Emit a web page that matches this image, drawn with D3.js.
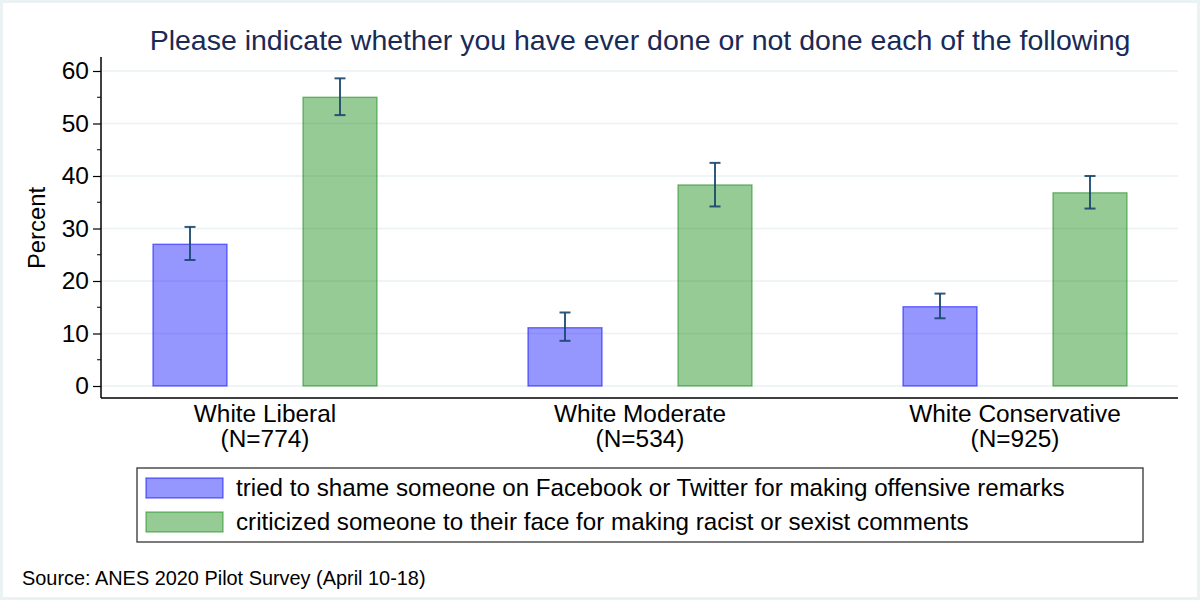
<!DOCTYPE html>
<html>
<head>
<meta charset="utf-8">
<script src="https://cdn.jsdelivr.net/npm/d3@7"></script>
<style>
  html, body { margin: 0; padding: 0; background: #fff; }
  text { font-family: "Liberation Sans", Arial, Helvetica, sans-serif; }
</style>
</head>
<body>
<svg id="chart" width="1200" height="600"></svg>
<script>
// ---- data ----
const groups = ["White Liberal", "White Moderate", "White Conservative"];
const groupN = ["(N=774)", "(N=534)", "(N=925)"];
const seriesNames = [
  "tried to shame someone on Facebook or Twitter for making offensive remarks",
  "criticized someone to their face for making racist or sexist comments"
];
const shameValues = [27.0, 11.1, 15.1];
const shameLow    = [24.0, 8.6, 12.9];
const shameHigh   = [30.3, 14.0, 17.6];
const criticValues = [55.0, 38.3, 36.8];
const criticLow    = [51.6, 34.2, 33.8];
const criticHigh   = [58.6, 42.5, 40.0];
const yTicks = [0, 10, 20, 30, 40, 50, 60];
const yMinorTicks = [5, 15, 25, 35, 45, 55];
const titleText = "Please indicate whether you have ever done or not done each of the following";
const yLabel = "Percent";
const sourceText = "Source: ANES 2020 Pilot Survey (April 10-18)";

const seriesKeys = ["shame", "critic"];
const fills = ["rgba(0,0,255,0.41)", "rgba(0,128,0,0.41)"];
const strokes = ["rgba(0,0,255,0.55)", "rgba(0,128,0,0.5)"];

const rows = [];
groups.forEach((g, i) => {
  rows.push({group: g, key: "shame", v: shameValues[i], lo: shameLow[i], hi: shameHigh[i]});
  rows.push({group: g, key: "critic", v: criticValues[i], lo: criticLow[i], hi: criticHigh[i]});
});

// ---- layout ----
const svg = d3.select("#chart");
const W = 1200, H = 600;
const plotLeft = 101, plotRight = 1178, axisY = 398, axisTop = 57;

svg.append("rect").attr("x", 0).attr("y", 0).attr("width", W).attr("height", H)
  .attr("fill", "#fff").attr("stroke", "#eaf2f3").attr("stroke-width", 6);

const y = d3.scaleLinear().domain([0, 60]).range([386, 71]);
const x = d3.scalePoint().domain(groups).range([265, 1015]);
const xs = d3.scalePoint().domain(seriesKeys).range([-75, 75]);
const barW = 74;

// gridlines
svg.append("g").selectAll("line").data(yTicks).join("line")
  .attr("x1", plotLeft).attr("x2", plotRight)
  .attr("y1", d => y(d)).attr("y2", d => y(d))
  .attr("stroke", "#eaf2f3").attr("stroke-width", 1.6);

// bars
svg.append("g").selectAll("rect").data(rows).join("rect")
  .attr("x", d => x(d.group) + xs(d.key) - barW / 2)
  .attr("y", d => y(d.v))
  .attr("width", barW)
  .attr("height", d => y(0) - y(d.v))
  .attr("fill", d => fills[seriesKeys.indexOf(d.key)])
  .attr("stroke", d => strokes[seriesKeys.indexOf(d.key)])
  .attr("stroke-width", 1.3);

// error bars
const eb = svg.append("g").attr("stroke", "#1a476f").attr("stroke-width", 2).attr("stroke-opacity", 0.9);
eb.selectAll("line.v").data(rows).join("line").attr("class", "v")
  .attr("x1", d => x(d.group) + xs(d.key)).attr("x2", d => x(d.group) + xs(d.key))
  .attr("y1", d => y(d.lo)).attr("y2", d => y(d.hi));
eb.selectAll("line.t").data(rows).join("line").attr("class", "t")
  .attr("x1", d => x(d.group) + xs(d.key) - 5.5).attr("x2", d => x(d.group) + xs(d.key) + 5.5)
  .attr("y1", d => y(d.hi)).attr("y2", d => y(d.hi));
eb.selectAll("line.b").data(rows).join("line").attr("class", "b")
  .attr("x1", d => x(d.group) + xs(d.key) - 5.5).attr("x2", d => x(d.group) + xs(d.key) + 5.5)
  .attr("y1", d => y(d.lo)).attr("y2", d => y(d.lo));

// y axis
const yAxis = d3.axisLeft(y).tickValues(yTicks).tickSize(8).tickPadding(4).tickSizeOuter(0);
const gy = svg.append("g").attr("transform", `translate(${plotLeft},0)`).call(yAxis);
gy.select(".domain").remove();
gy.selectAll(".tick line").attr("stroke", "#000").attr("stroke-width", 1.2);
gy.selectAll(".tick text").attr("font-size", 24.5).attr("fill", "#000")
  .attr("font-family", "'Liberation Sans', Arial, sans-serif");
svg.append("g").attr("transform", `translate(${plotLeft},0)`)
  .selectAll("line").data(yMinorTicks).join("line")
  .attr("x1", -4).attr("x2", 0).attr("y1", d => y(d)).attr("y2", d => y(d))
  .attr("stroke", "#000").attr("stroke-width", 1);

// axis lines
svg.append("line").attr("x1", plotLeft).attr("x2", plotLeft).attr("y1", axisTop).attr("y2", axisY)
  .attr("stroke", "#000").attr("stroke-width", 1.5);
svg.append("line").attr("x1", plotLeft).attr("x2", plotRight).attr("y1", axisY).attr("y2", axisY)
  .attr("stroke", "#000").attr("stroke-width", 1.5);

// x labels
const xl = svg.append("g");
groups.forEach((g, i) => {
  xl.append("text").attr("x", x(g)).attr("y", 422).attr("text-anchor", "middle")
    .attr("font-size", 24.4).attr("fill", "#000").text(g);
  xl.append("text").attr("x", x(g)).attr("y", 447).attr("text-anchor", "middle")
    .attr("font-size", 24.4).attr("fill", "#000").text(groupN[i]);
});

// y label
svg.append("text").attr("transform", "translate(45,228) rotate(-90)")
  .attr("text-anchor", "middle").attr("font-size", 23.8).attr("fill", "#000").text(yLabel);

// title
svg.append("text").attr("x", 640).attr("y", 50).attr("text-anchor", "middle")
  .attr("font-size", 28.5).attr("fill", "#1a2a56").text(titleText);

// legend
const lg = svg.append("g");
lg.append("rect").attr("x", 137).attr("y", 468).attr("width", 1006).attr("height", 74)
  .attr("fill", "#fff").attr("stroke", "#333").attr("stroke-width", 1.3);
seriesNames.forEach((s, i) => {
  const yy = 478 + i * 34;
  lg.append("rect").attr("x", 146).attr("y", yy).attr("width", 77).attr("height", 20)
    .attr("fill", fills[i]).attr("stroke", strokes[i]).attr("stroke-width", 1.3);
  lg.append("text").attr("x", 236).attr("y", yy + 18).attr("font-size", 24.2)
    .attr("fill", "#000").text(s);
});

// source
svg.append("text").attr("x", 22).attr("y", 585).attr("font-size", 19.9).attr("fill", "#000").text(sourceText);
</script>
</body>
</html>
